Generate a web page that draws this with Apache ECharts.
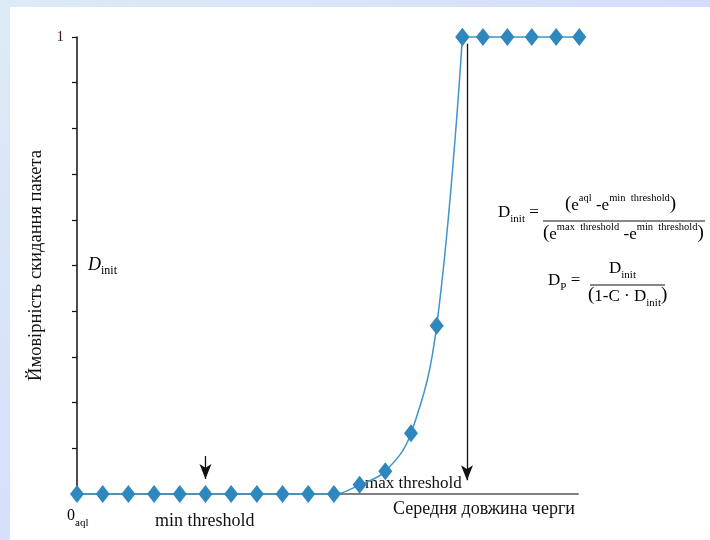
<!DOCTYPE html>
<html>
<head>
<meta charset="utf-8">
<script src="https://cdn.jsdelivr.net/npm/echarts@6/dist/echarts.min.js"></script>
<style>
html,body{margin:0;padding:0;background:#fff;}
#c{width:710px;height:540px;}
</style>
</head>
<body>
<div id="c"></div>
<script>
// queue length positions (in units of marker spacing) and drop probability
const queueLen = [0,1,2,3,4,5,6,7,8,9,10,11,12,13,14,15,15.8,16.75,17.7,18.65,19.55];
const dropProb = [0,0,0,0,0,0,0,0,0,0,0,0.02,0.05,0.133,0.368,1,1,1,1,1,1];
const saturationIndex = 15; // first point at probability 1
const yTickLabels = {1:'1'};
const minThresholdX = 5;
const maxThresholdX = 15.18;
const yAxisName = 'Ймовірність скидання пакета';
const xAxisName = 'Середня довжина черги';

const serif = '"Liberation Serif","DejaVu Serif",serif';
const chart = echarts.init(document.getElementById('c'));

const rich = {
  t:{fontFamily:serif,fontSize:17,color:'#111',verticalAlign:'bottom'},
  p:{fontFamily:serif,fontSize:19,color:'#111',verticalAlign:'bottom'},
  sup:{fontFamily:serif,fontSize:10.5,color:'#111',verticalAlign:'bottom',padding:[0,0,10,0]},
  sub:{fontFamily:serif,fontSize:11,color:'#111',verticalAlign:'bottom',padding:[0,0,-4,0]}
};

const pts = queueLen.map((x,i)=>[x,dropProb[i]]);
const lineCommon = {
  type:'line',clip:false,
  symbol:'diamond',symbolSize:[14,18],
  lineStyle:{color:'#3f95c8',width:1.5},
  itemStyle:{color:'#2e87bd'},
  z:3
};

chart.setOption({
  animation:false,
  backgroundColor:'#fff',
  grid:{left:77,top:37,right:132,bottom:46},
  xAxis:{
    type:'value',min:0,max:19.5,
    axisLine:{show:true,onZero:false,lineStyle:{color:'#808080',width:2}},
    axisTick:{show:false},axisLabel:{show:false},splitLine:{show:false}
  },
  yAxis:{
    type:'value',min:0,max:1,interval:0.1,
    name:yAxisName,nameLocation:'middle',nameGap:25,
    nameTextStyle:{fontFamily:serif,fontSize:18.5,color:'#111'},
    axisLine:{show:true,lineStyle:{color:'#111',width:1.5}},
    axisTick:{show:true,inside:false,length:5,lineStyle:{color:'#111',width:1.2}},
    axisLabel:{margin:13,fontFamily:serif,fontSize:15,color:'#3a1c1c',
      formatter:v=>yTickLabels[Math.round(v*10)/10]||''},
    splitLine:{show:false}
  },
  graphic:[
    {type:'rect',shape:{x:0,y:0,width:710,height:7},z:-1,silent:true,
     style:{fill:new echarts.graphic.LinearGradient(0,0,1,0,[{offset:0,color:'#dcebf6'},{offset:1,color:'#d4ddfb'}])}},
    {type:'rect',shape:{x:0,y:0,width:10,height:540},z:-1,silent:true,
     style:{fill:new echarts.graphic.LinearGradient(0,0,0,1,[{offset:0,color:'#dcebf6'},{offset:1,color:'#d6dffb'}])}},
    // D_init label near axis
    {type:'text',left:88,top:256,style:{rich:{
      d:{fontFamily:serif,fontSize:18,fontStyle:'italic',color:'#111',verticalAlign:'bottom'},
      s:{fontFamily:serif,fontSize:12,color:'#111',verticalAlign:'bottom',padding:[0,0,-3,0]}},
      text:'{d|D}{s|init}'}},
    // 0_aql
    {type:'text',left:67,top:508,style:{rich:{
      d:{fontFamily:serif,fontSize:16,color:'#111',verticalAlign:'bottom'},
      s:{fontFamily:serif,fontSize:11,color:'#111',verticalAlign:'bottom',padding:[0,0,-5,0]}},
      text:'{d|0}{s|aql}'}},
    {type:'text',left:155,top:512,style:{text:'min threshold',font:'18px '+serif,fill:'#111'}},
    {type:'text',left:365,top:475,style:{text:'max threshold',font:'17px '+serif,fill:'#111'}},
    {type:'text',left:393,top:500,style:{text:xAxisName,font:'18px '+serif,fill:'#111'}},
    // formula 1
    {type:'text',left:498,top:204,style:{rich:rich,text:'{t|D}{sub|init}{t| =}'}},
    {type:'text',left:565,top:193,style:{rich:rich,text:'{p|(}{t|e}{sup|aql}{t| -e}{sup|min  threshold}{p|)}'}},
    {type:'line',shape:{x1:543,y1:221,x2:705,y2:221},style:{stroke:'#111',lineWidth:1}},
    {type:'text',left:543,top:222,style:{rich:rich,text:'{p|(}{t|e}{sup|max  threshold}{t| -e}{sup|min  threshold}{p|)}'}},
    // formula 2
    {type:'text',left:548,top:272,style:{rich:rich,text:'{t|D}{sub|P}{t| =}'}},
    {type:'text',left:609,top:260,style:{rich:rich,text:'{t|D}{sub|init}'}},
    {type:'line',shape:{x1:590,y1:285,x2:665,y2:285},style:{stroke:'#111',lineWidth:1}},
    {type:'text',left:588,top:286,style:{rich:rich,text:'{p|(}{t|1-C · D}{sub|init}{p|)}'}}
  ],
  series:[
    Object.assign({}, lineCommon, {
      data:pts.slice(0, saturationIndex+1),
      smooth:0.4,
      markLine:{
        silent:true,
        symbol:['none','arrow'],symbolSize:[9,15],
        label:{show:false},
        lineStyle:{color:'#111',width:1.3,type:'solid'},
        data:[
          [{coord:[minThresholdX,0.083]},{coord:[minThresholdX,0.033]}],
          [{coord:[maxThresholdX,0.985]},{coord:[maxThresholdX,0.03]}]
        ]
      }
    }),
    Object.assign({}, lineCommon, {
      data:pts.slice(saturationIndex),
      smooth:false
    })
  ]
});
</script>
</body>
</html>
